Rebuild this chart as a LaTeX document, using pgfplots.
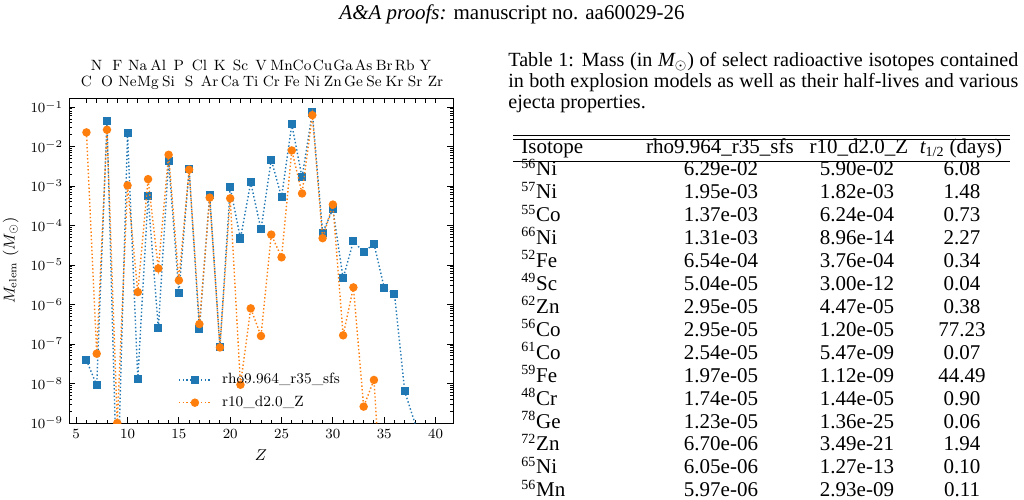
\documentclass[border=0pt]{standalone}
\usepackage{fontspec}
\usepackage{pgfplots}
\pgfplotsset{compat=1.18}
\newfontfamily\timesfont{Liberation Serif}
\definecolor{tabblue}{HTML}{1F77B4}
\definecolor{taborange}{HTML}{FF7F0E}

% elemental yields (Msun) versus atomic number Z
\pgfplotstableread{
Z m
6 3.9e-8
7 9.0e-9
8 4.4e-2
9 1e-11
10 2.16e-2
11 1.32e-8
12 5.5e-4
13 2.5e-7
14 4.4e-3
15 2.0e-6
16 2.64e-3
17 2.4e-7
18 5.9e-4
19 8.2e-8
20 9.3e-4
21 4.7e-5
22 1.24e-3
23 8.0e-5
24 4.7e-3
25 5.2e-4
26 3.64e-2
27 1.66e-3
28 7.3e-2
29 6.6e-5
30 2.6e-4
31 4.6e-6
32 4.06e-5
33 2.1e-5
34 3.5e-5
35 2.67e-6
36 1.87e-6
37 6.3e-9
38 9.8e-10
39 1e-12
40 1e-13
}\rhotable

\pgfplotstableread{
Z m
6 2.29e-2
7 5.7e-8
8 2.67e-2
9 1.0e-9
10 1.04e-3
11 2.07e-6
12 1.5e-3
13 8.2e-6
14 6.2e-3
15 4.1e-6
16 2.6e-3
17 3.2e-7
18 5.1e-4
19 8.2e-8
20 4.9e-4
21 9.3e-9
22 8.0e-7
23 1.6e-7
24 5.9e-5
25 1.57e-5
26 8.0e-3
27 6.5e-4
28 6.26e-2
29 4.8e-5
30 3.4e-4
31 1.66e-7
32 2.72e-6
33 2.6e-9
34 1.23e-8
35 1e-12
}\rtentable

\begin{document}
\begin{tikzpicture}[x=0.5714pt,y=-0.5714pt]
\path[use as bounding box, clip] (0,0) rectangle (1024,499);

% running head
\node[font=\timesfont\fontsize{12}{14}\selectfont] at (512,14)
  {\textit{A\&A proofs:} manuscript no. aa60029-26};

% main panel
\begin{axis}[
  at={(39.43pt,-241.70pt)}, anchor=south west,
  scale only axis, width=219.4pt, height=185.7pt,
  xmin=4.3, xmax=41.7,
  ymode=log, ymin=1e-9, ymax=0.17,
  xtick={5,10,...,40}, minor x tick num=4,
  ytick={1e-9,1e-8,1e-7,1e-6,1e-5,1e-4,1e-3,1e-2,1e-1},
  xtick pos=left, ytick pos=both,
  tick align=inside,
  major tick length=3.4pt, minor tick length=1.8pt,
  axis line style={line width=0.5pt},
  every tick/.style={black, line width=0.5pt},
  tick label style={font=\fontsize{8}{9}\selectfont},
  label style={font=\fontsize{9}{10}\selectfont},
  xlabel={$Z$}, ylabel={$M_{\mathrm{elem}}$ ($M_\odot$)},
  clip marker paths=true,
  legend style={draw=none, fill=none, at={(0.27,0.02)}, anchor=south west,
    font=\fontsize{8.5}{10}\selectfont, row sep=1.5pt,
    /tikz/every odd column/.append style={column sep=4pt}},
  legend cell align=left,
  legend image code/.code={\draw[mark repeat=2,mark phase=2,#1]
    plot coordinates {(0cm,0cm) (0.32cm,0cm) (0.64cm,0cm)};},
]
\addplot[color=tabblue, line width=0.8pt, dash pattern=on 0.8pt off 1.3pt,
  mark=square*, mark size=1.9pt, mark options={solid}]
  table[x=Z,y=m] {\rhotable};
\addlegendentry{rho9.964\_r35\_sfs}
\addplot[color=taborange, line width=0.8pt, dash pattern=on 0.8pt off 1.3pt,
  mark=*, mark size=2pt, mark options={solid}]
  table[x=Z,y=m] {\rtentable};
\addlegendentry{r10\_d2.0\_Z}
\end{axis}

% element symbols along the top edge
\begin{axis}[
  at={(39.43pt,-241.70pt)}, anchor=south west,
  scale only axis, width=219.4pt, height=185.7pt,
  xmin=4.3, xmax=41.7, ymin=0, ymax=1,
  axis x line*=top, axis y line=none,
  xtick={6,...,40},
  tick align=inside, major tick length=2.9pt,
  every tick/.style={black, line width=0.5pt},
  axis line style={line width=0.5pt, -},
  xticklabel style={align=center, font=\fontsize{8.5}{9.2}\selectfont},
  xticklabels={\strut C,{\strut N\\\strut},\strut O,{\strut F\\\strut},
    \strut Ne,{\strut Na\\\strut},\strut Mg,{\strut Al\\\strut},
    \strut Si,{\strut P\\\strut},\strut S,{\strut Cl\\\strut},
    \strut Ar,{\strut K\\\strut},\strut Ca,{\strut Sc\\\strut},
    \strut Ti,{\strut V\\\strut},\strut Cr,{\strut Mn\\\strut},
    \strut Fe,{\strut Co\\\strut},\strut Ni,{\strut Cu\\\strut},
    \strut Zn,{\strut Ga\\\strut},\strut Ge,{\strut As\\\strut},
    \strut Se,{\strut Br\\\strut},\strut Kr,{\strut Rb\\\strut},
    \strut Sr,{\strut Y\\\strut},\strut Zr},
]
\end{axis}

% table caption
\node[anchor=north west, inner sep=0pt, text width=291.4pt, align=justify,
  font=\timesfont\fontsize{11.5}{12}\selectfont] at (508,52)
  {Table 1: Mass (in {\itshape M}$_\odot$) of select radioactive isotopes contained\linebreak
   in both explosion models as well as their half-lives and various\linebreak
   ejecta properties.};

% table rules
\draw[line width=0.4pt] (513,135) -- (1010,135);
\draw[line width=0.4pt] (513,139.3) -- (1010,139.3);
\draw[line width=0.4pt] (513,161) -- (1010,161);

\begin{scope}[every node/.style={font=\timesfont\fontsize{12}{14}\selectfont, inner sep=0pt}]
\node[anchor=mid west] at (521,150) {Isotope};
\node[anchor=mid] at (720,150) {rho9.964\_r35\_sfs};
\node[anchor=mid] at (859,150) {r10\_d2.0\_Z};
\node[anchor=mid] at (961,150) {{\itshape t}\textsubscript{1/2} (days)};
\foreach \iso/\el/\a/\b/\c [count=\i from 0] in {
  56/Ni/6.29e-02/5.90e-02/6.08,
  57/Ni/1.95e-03/1.82e-03/1.48,
  55/Co/1.37e-03/6.24e-04/0.73,
  66/Ni/1.31e-03/8.96e-14/2.27,
  52/Fe/6.54e-04/3.76e-04/0.34,
  49/Sc/5.04e-05/3.00e-12/0.04,
  62/Zn/2.95e-05/4.47e-05/0.38,
  56/Co/2.95e-05/1.20e-05/77.23,
  61/Co/2.54e-05/5.47e-09/0.07,
  59/Fe/1.97e-05/1.12e-09/44.49,
  48/Cr/1.74e-05/1.44e-05/0.90,
  78/Ge/1.23e-05/1.36e-25/0.06,
  72/Zn/6.70e-06/3.49e-21/1.94,
  65/Ni/6.05e-06/1.27e-13/0.10,
  56/Mn/5.97e-06/2.93e-09/0.11}
{
  \pgfmathsetmacro\yy{172+22.93*\i}
  \node[anchor=mid west] at (521,\yy) {\textsuperscript{\iso}\el};
  \node[anchor=mid] at (721,\yy) {\a};
  \node[anchor=mid] at (857,\yy) {\b};
  \node[anchor=mid] at (962,\yy) {\c};
}
\end{scope}
\end{tikzpicture}
\end{document}
